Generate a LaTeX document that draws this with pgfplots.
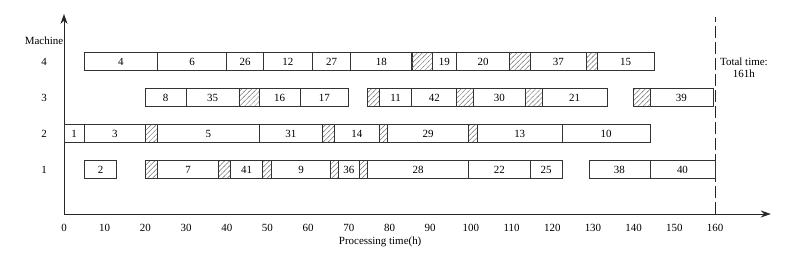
\documentclass[border=0pt]{standalone}
\usepackage{fontspec}
\setmainfont{Liberation Serif}
\usepackage{pgfplots}
\pgfplotsset{compat=1.18}
\usepackage{pgfplotstable}
\usetikzlibrary{arrows.meta}

\pgfdeclarepatternformonly{myhatch}{\pgfqpoint{-1pt}{-1pt}}{\pgfqpoint{6pt}{6pt}}{\pgfqpoint{5pt}{5pt}}{%
  \pgfsetlinewidth{0.5pt}%
  \pgfpathmoveto{\pgfqpoint{-0.5pt}{-0.5pt}}%
  \pgfpathlineto{\pgfqpoint{5.5pt}{5.5pt}}%
  \pgfusepath{stroke}}

\pgfdeclareplotmark{ganttwhite}{%
  \pgfpathrectangle{\pgfpoint{-0.5*\dur*4.069bp}{-9bp}}{\pgfpoint{\dur*4.069bp}{18bp}}%
  \pgfsetfillcolor{white}%
  \pgfusepathqfillstroke
  \pgfmathtruncatemacro\boxlabint{round(\boxlab)}%
  \pgftext{\color{black}\boxlabint}}

\pgfdeclareplotmark{gantthatch}{%
  \pgfpathrectangle{\pgfpoint{-0.5*\dur*4.069bp}{-9bp}}{\pgfpoint{\dur*4.069bp}{18bp}}%
  \pgfsetfillpattern{myhatch}{black!50}%
  \pgfusepathqfillstroke}

\pgfplotstableread{
s e r lab
5 23 4 4
23 40 4 6
40 49 4 26
49 61 4 12
61 70.5 4 27
70.5 85.5 4 18
90.5 96.5 4 19
96.5 109.5 4 20
114.5 128.5 4 37
131 145 4 15
20 30 3 8
30 43 3 35
48 58 3 16
58 70 3 17
77.5 85.5 3 11
85.5 96.5 3 42
100.5 113.5 3 30
117.5 133.5 3 21
144 159.5 3 39
0 5 2 1
5 20 2 3
23 48 2 5
48 63.5 2 31
66.5 77.5 2 14
79.5 99.5 2 29
101.5 122.5 2 13
122.5 144 2 10
5 13 1 2
23 38 1 7
41 48.8 1 41
51 65.5 1 9
67.5 72.5 1 36
74.5 99.5 1 28
99.5 114.5 1 22
114.5 122.5 1 25
129 144 1 38
144 160 1 40
}\jobs

\pgfplotstableread{
s e r
85.5 90.5 4
109.5 114.5 4
128.5 131 4
43 48 3
74.5 77.5 3
96.5 100.5 3
113.5 117.5 3
140 144 3
20 23 2
63.5 66.5 2
77.5 79.5 2
99.5 101.5 2
20 23 1
38 41 1
48.8 51 1
65.5 67.5 1
72.5 74.5 1
}\setups

\begin{document}
\fontsize{11}{12.5}\selectfont
\begin{tikzpicture}
\begin{axis}[
  x=4.069bp, y=36bp,
  xmin=0, xmax=173.7, ymin=-0.228, ymax=5.33,
  enlargelimits=false,
  axis lines=left,
  clip=false,
  x axis line style={line width=0.9pt, black!85, -{Stealth[length=10bp,width=7bp]}},
  y axis line style={line width=0.9pt, black!85, -{Stealth[length=10bp,width=7bp]}},
  xtick={0,10,...,160},
  ytick={1,2,3,4},
  major tick length=0pt,
  xticklabel style={anchor=center, yshift=-14bp},
  yticklabel style={anchor=center, xshift=-20bp},
  /pgf/number format/assume math mode=true,
]
\addplot[black, only marks, mark=ganttwhite,
  mark options={draw=black!80, line width=0.8pt},
  visualization depends on={\thisrow{e}-\thisrow{s} \as \dur},
  visualization depends on={\thisrow{lab} \as \boxlab}]
  table[x expr={(\thisrow{s}+\thisrow{e})/2}, y=r]{\jobs};
\addplot[black, only marks, mark=gantthatch,
  mark options={draw=black!80, line width=0.8pt},
  visualization depends on={\thisrow{e}-\thisrow{s} \as \dur}]
  table[x expr={(\thisrow{s}+\thisrow{e})/2}, y=r]{\setups};
\addplot[black!85, line width=0.9pt, dash pattern=on 12bp off 4bp] coordinates {(160,-0.228) (160,5.25)};
\node at (axis cs:-4.9,4.58) {Machine};
\node at (axis cs:77.7,-1.0) {Processing time(h)};
\node[align=center, font=\fontsize{11}{11.5}\selectfont] at (axis cs:167.1,3.84) {Total time:\\161h};
\path (rel axis cs:0,0) ++(-64bp,-42bp) rectangle ++(805bp,256bp);
\end{axis}
\end{tikzpicture}
\end{document}
